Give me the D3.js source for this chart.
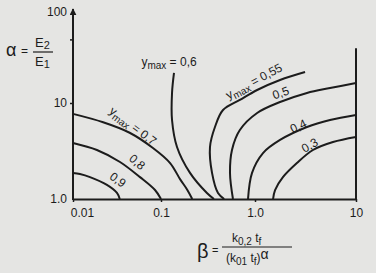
<!DOCTYPE html>
<html>
<head>
<meta charset="utf-8">
<script src="https://cdn.jsdelivr.net/npm/d3@7"></script>
<style>
  body { margin: 0; background: #e5e5e3; }
  svg { display: block; font-family: "Liberation Sans", Arial, sans-serif; }
</style>
</head>
<body>
<div id="chart"></div>
<script>
// ymax curves, points are [beta, alpha]
const curve09 = [[0.01, 1.87], [0.012, 1.82], [0.0156, 1.69], [0.0243, 1.40], [0.0316, 1.155], [0.034, 1.0]];
const curve08 = [[0.01, 3.83], [0.0187, 3.24], [0.0342, 2.43], [0.0577, 1.69], [0.0855, 1.24], [0.1, 1.0]];
const curve07 = [[0.01, 7.7], [0.022, 6.3], [0.044, 4.9], [0.081, 3.4], [0.125, 2.37], [0.16, 1.6], [0.19, 1.25], [0.215, 1.0]];
const curve06 = [[0.1375, 21.4], [0.131, 12.9], [0.131, 6.65], [0.148, 3.48], [0.2035, 1.87], [0.308, 1.155], [0.366, 1.0]];
const curve055 = [[3.13, 21.9], [1.77, 17.9], [1.05, 13.9], [0.69, 10.8], [0.457, 8.45], [0.375, 5.62], [0.332, 3.48], [0.349, 1.87], [0.404, 1.155], [0.47, 1.0]];
const curve05 = [[10, 16.6], [5.53, 14.6], [3.27, 12.9], [1.77, 10.25], [1.05, 7.87], [0.69, 5.23], [0.569, 3.24], [0.542, 1.87], [0.583, 1.0]];
const curve04 = [[10, 7.5], [5.53, 6.65], [3.27, 5.62], [1.77, 4.12], [1.2, 3.01], [0.93, 1.87], [0.843, 1.0]];
const curve03 = [[10, 4.42], [5.92, 3.92], [3.75, 3.24], [2.6, 2.37], [1.89, 1.69], [1.58, 1.24], [1.51, 1.0]];

const curves = [curve09, curve08, curve07, curve06, curve055, curve05, curve04, curve03];

const xTicks = [0.01, 0.1, 1, 10];
const xTickLabels = ["0.01", "0.1", "1.0", "10"];
const yTicks = [1, 10, 50, 100];
const yTickLabels = ["1.0", "10", "", "100"];

// labels next to the curves (pixel position on the curve, rotation)
const curveLabels = [
  {text: "0,9", x: 114, y: 185, angle: 36, ymax: false},
  {text: "0,8", x: 133, y: 167, angle: 40, ymax: false},
  {text: "0,7", x: 129, y: 131, angle: 37, ymax: true},
  {text: "0,6", x: 169, y: 68, angle: 0, ymax: true},
  {text: "0,55", x: 257, y: 87, angle: -28, ymax: true},
  {text: "0,5", x: 283, y: 99, angle: -20, ymax: false},
  {text: "0,4", x: 301, y: 132, angle: -25, ymax: false},
  {text: "0,3", x: 313, y: 151, angle: -30, ymax: false}
];

const width = 376, height = 273;
const ink = "#1c1c1c";

const svg = d3.select("#chart")
  .append("svg")
  .attr("width", width)
  .attr("height", height);

// scan is slightly stretched, so piecewise log scales
const x = d3.scaleLog()
  .domain([0.01, 0.1, 1, 10])
  .range([73, 161, 255, 356]);

const y = d3.scaleLog()
  .domain([1, 10, 100])
  .range([199, 103, 12]);

// arrow head for the alpha axis
svg.append("defs").append("marker")
  .attr("id", "arrow")
  .attr("viewBox", "0 0 10 10")
  .attr("refX", 9).attr("refY", 5)
  .attr("markerWidth", 7).attr("markerHeight", 7)
  .attr("markerUnits", "userSpaceOnUse")
  .attr("orient", "auto")
  .append("path")
  .attr("d", "M0,0 L10,5 L0,10 Z")
  .attr("fill", ink);

// x axis
const xAxis = svg.append("g")
  .attr("transform", `translate(0, ${y(1)})`)
  .call(d3.axisBottom(x)
    .tickValues(xTicks)
    .tickFormat(function(d, i) { return xTickLabels[i]; })
    .tickSize(3)
    .tickSizeOuter(0)
    .tickPadding(6));

xAxis.select(".domain").attr("stroke", ink).attr("stroke-width", 2);
xAxis.selectAll(".tick line").attr("stroke", ink).attr("stroke-width", 1.5);
xAxis.selectAll(".tick text")
  .attr("fill", ink)
  .style("font-size", "12px");
xAxis.selectAll(".tick text").filter(function(d) { return d === 0.01; })
  .attr("dx", 9);

// y axis
const yAxis = svg.append("g")
  .attr("transform", `translate(${x(0.01)}, 0)`)
  .call(d3.axisLeft(y)
    .tickValues(yTicks)
    .tickFormat(function(d, i) { return yTickLabels[i]; })
    .tickSize(3)
    .tickSizeOuter(0)
    .tickPadding(3));

yAxis.select(".domain").remove();
yAxis.selectAll(".tick line")
  .attr("stroke", ink)
  .attr("stroke-width", 1.5)
  .attr("display", function(d) { return (d === 1 || d === 100) ? "none" : null; });
yAxis.selectAll(".tick text")
  .attr("fill", ink)
  .style("font-size", "12px");

svg.append("line")
  .attr("x1", x(0.01)).attr("x2", x(0.01))
  .attr("y1", y(1) + 1).attr("y2", y(100) - 3)
  .attr("stroke", ink)
  .attr("stroke-width", 2)
  .attr("marker-end", "url(#arrow)");

// right border at beta = 10
svg.append("line")
  .attr("x1", x(10)).attr("x2", x(10))
  .attr("y1", y(1) + 1).attr("y2", y(40))
  .attr("stroke", ink)
  .attr("stroke-width", 2);

// curves
const line = d3.line()
  .x(function(d) { return x(d[0]); })
  .y(function(d) { return y(d[1]); })
  .curve(d3.curveCatmullRom.alpha(0.5));

svg.selectAll(".curve")
  .data(curves)
  .enter()
  .append("path")
  .attr("class", "curve")
  .attr("d", line)
  .attr("fill", "none")
  .attr("stroke", ink)
  .attr("stroke-width", 2);

// curve labels, baseline just above the curve
const lbl = svg.selectAll(".curve-label")
  .data(curveLabels)
  .enter()
  .append("text")
  .attr("class", "curve-label")
  .attr("transform", function(d) { return `translate(${d.x}, ${d.y}) rotate(${d.angle})`; })
  .attr("text-anchor", "middle")
  .attr("dy", "-0.2em")
  .attr("fill", ink)
  .style("font-size", "12px");

lbl.each(function(d) {
  const t = d3.select(this);
  if (d.ymax) {
    t.append("tspan").text("y");
    t.append("tspan").attr("dy", 3).style("font-size", "10px").text("max");
    t.append("tspan").attr("dy", -3).text(" = " + d.text);
  } else {
    t.text(d.text);
  }
});

// alpha = E2 / E1
const yLabel = svg.append("g").attr("fill", ink);
yLabel.append("text").attr("x", 6).attr("y", 56).style("font-size", "18px").text("\u03b1");
yLabel.append("text").attr("x", 21).attr("y", 55).style("font-size", "12px").text("=");
const e2 = yLabel.append("text").attr("x", 35).attr("y", 47).style("font-size", "13px");
e2.append("tspan").text("E");
e2.append("tspan").attr("dy", 2).style("font-size", "11px").text("2");
yLabel.append("line")
  .attr("x1", 33).attr("x2", 53).attr("y1", 52).attr("y2", 52)
  .attr("stroke", ink).attr("stroke-width", 1.2);
const e1 = yLabel.append("text").attr("x", 35).attr("y", 66).style("font-size", "13px");
e1.append("tspan").text("E");
e1.append("tspan").attr("dy", 2).style("font-size", "11px").text("1");

// beta = k0,2 tf / (k01 tf)^alpha
const xLabel = svg.append("g").attr("fill", ink);
xLabel.append("text").attr("x", 197).attr("y", 258).style("font-size", "20px").text("\u03b2");
xLabel.append("text").attr("x", 212).attr("y", 254).style("font-size", "11px").text("=");
const num = xLabel.append("text").attr("x", 232).attr("y", 242).style("font-size", "12px");
num.append("tspan").text("k");
num.append("tspan").attr("dy", 3).style("font-size", "10px").text("0,2");
num.append("tspan").attr("dy", -3).text(" t");
num.append("tspan").attr("dy", 3).style("font-size", "10px").text("f");
xLabel.append("line")
  .attr("x1", 222).attr("x2", 292).attr("y1", 247).attr("y2", 247)
  .attr("stroke", ink).attr("stroke-width", 1.2);
const den = xLabel.append("text").attr("x", 226).attr("y", 262).style("font-size", "12px");
den.append("tspan").text("(k");
den.append("tspan").attr("dy", 3).style("font-size", "10px").text("01");
den.append("tspan").attr("dy", -3).text(" t");
den.append("tspan").attr("dy", 3).style("font-size", "10px").text("f");
den.append("tspan").attr("dy", -3).text(")");
den.append("tspan").attr("dy", -3).style("font-size", "14px").text("\u03b1");
</script>
</body>
</html>
